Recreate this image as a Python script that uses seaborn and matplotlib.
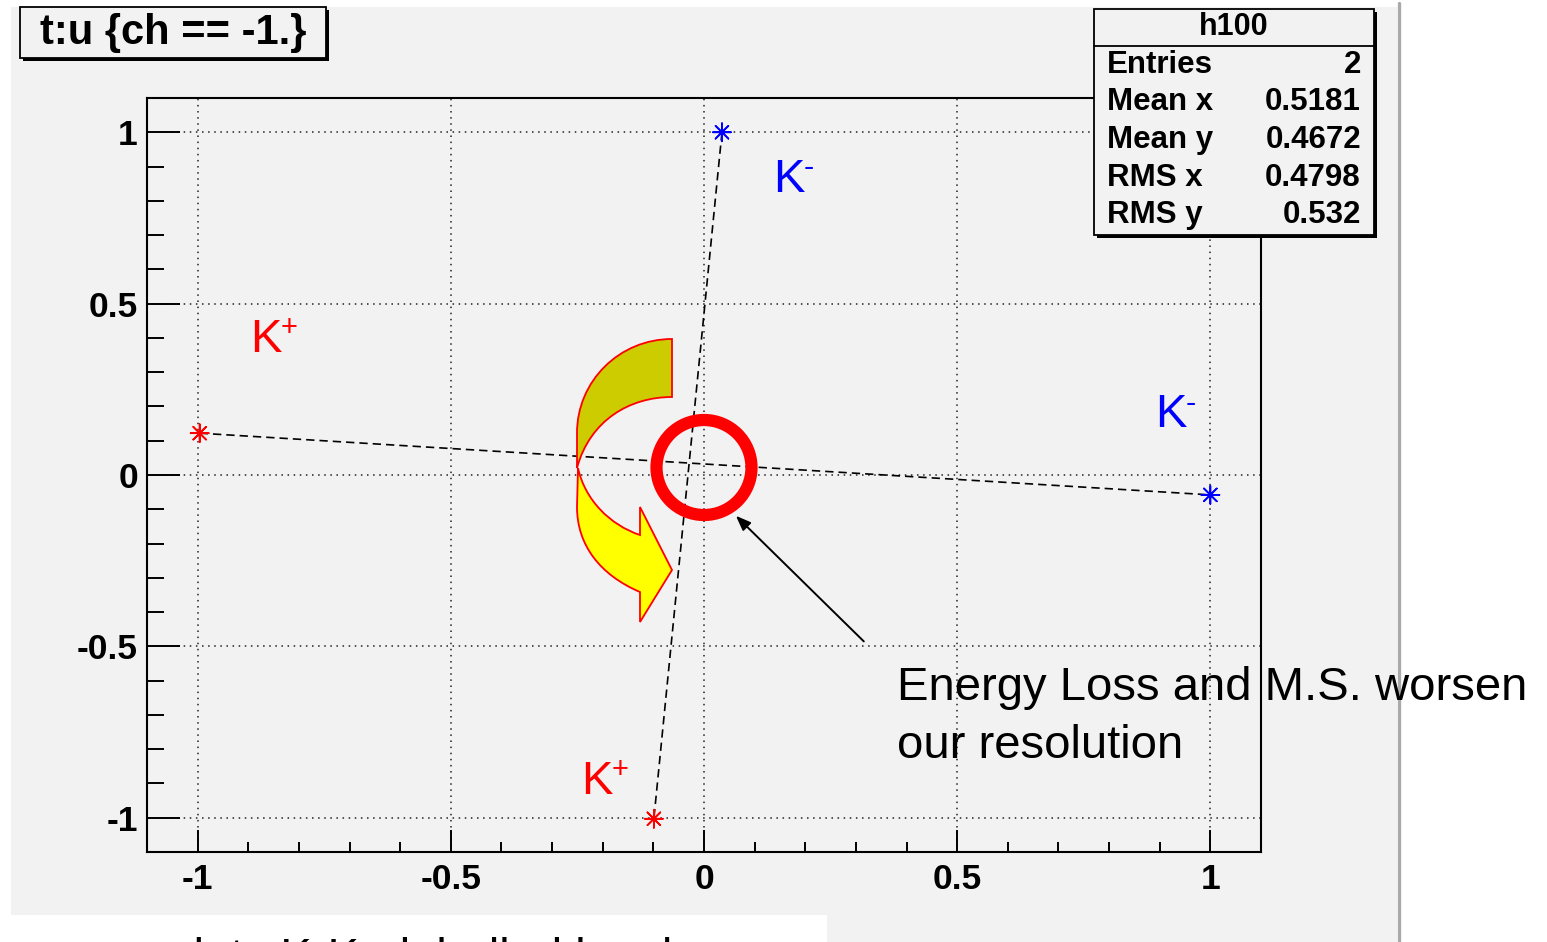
import numpy as np
import pandas as pd
import matplotlib
matplotlib.use("Agg")
import matplotlib.pyplot as plt
import matplotlib.patches as mpatches
import matplotlib.transforms as mtransforms
from matplotlib.lines import Line2D
from matplotlib.path import Path
from matplotlib.ticker import FixedLocator, MultipleLocator
import seaborn as sns

# ---------------- data ----------------
track_id = ["A", "A", "B", "B"]
charge = ["K+", "K-", "K-", "K+"]
point_u = [-0.996, 1.000, 0.0355, -0.099]
point_t = [0.122, -0.058, 1.000, -1.003]

major_ticks = [-1, -0.5, 0, 0.5, 1]
tick_labels = ["-1", "-0.5", "0", "0.5", "1"]

stats_title = "h100"
stats_names = ["Entries", "Mean x", "Mean y", "RMS x", "RMS y"]
stats_values = ["2", "0.5181", "0.4672", "0.4798", "0.532"]

hist_title = "t:u {ch == -1.}"
note_line1 = "Energy Loss and M.S. worsen"
note_line2 = "our resolution"
footer_text = "xy plots K-K+ labelled by charge"

label_u = [0.136, 0.891, -0.897, -0.243]
label_t = [0.826, 0.1395, 0.360, -0.930]
label_sign = ["-", "-", "+", "+"]
label_color = ["blue", "blue", "red", "red"]

df = pd.DataFrame({"track": track_id, "charge": charge, "u": point_u, "t": point_t})

# ---------------- style ----------------
sns.set_style("white")
plt.rcParams["font.family"] = ["Liberation Sans", "DejaVu Sans"]
plt.rcParams["axes.unicode_minus"] = False
plt.rcParams["text.color"] = "black"
plt.rcParams["xtick.color"] = "black"
plt.rcParams["ytick.color"] = "black"
plt.rcParams["xtick.labelcolor"] = "black"
plt.rcParams["ytick.labelcolor"] = "black"

W, H = 1547, 942
fig = plt.figure(figsize=(W / 100, H / 100), dpi=100, facecolor="white")
px = mtransforms.Affine2D().scale(1 / W, -1 / H).translate(0, 1) + fig.transFigure

CANVAS = "#f2f2f2"

# canvas background
fig.add_artist(mpatches.Rectangle((11, 7), 1386, 935, transform=px,
                                  facecolor=CANVAS, edgecolor="none", zorder=-10))
fig.add_artist(mpatches.Rectangle((11, 915), 816, 30, transform=px,
                                  facecolor="white", edgecolor="none", zorder=-9))
fig.add_artist(Line2D([1399, 1399], [3, 942], transform=px, color="#aaaaaa",
                      lw=2.4, zorder=-8))

# axes
ax = fig.add_axes([147 / W, 1 - 852 / H, (1261 - 147) / W, (852 - 98) / H])
ax.set_facecolor(CANVAS)

sns.lineplot(data=df, x="u", y="t", units="track", estimator=None, sort=False,
             color="black", lw=1.2, linestyle=(0, (5, 3)), ax=ax, zorder=3)
sns.scatterplot(data=df, x="u", y="t", hue="charge",
                palette={"K+": "red", "K-": "blue"}, marker=(8, 2, 0), s=170,
                linewidth=1.2, legend=False, ax=ax, zorder=4)

ax.set_xlim(-1.1, 1.1)
ax.set_ylim(-1.1, 1.1)
ax.set_xlabel("")
ax.set_ylabel("")
ax.xaxis.set_major_locator(FixedLocator(major_ticks))
ax.yaxis.set_major_locator(FixedLocator(major_ticks))
ax.set_xticklabels(tick_labels, fontsize=25.5, fontweight="bold", color="black")
ax.set_yticklabels(tick_labels, fontsize=25.5, fontweight="bold", color="black")
ax.xaxis.set_minor_locator(MultipleLocator(0.1))
ax.yaxis.set_minor_locator(MultipleLocator(0.1))
ax.tick_params(axis="both", which="both", direction="in", top=False, right=False,
               bottom=True, left=True, width=1.4, color="black")
ax.tick_params(axis="x", which="major", length=16, pad=8)
ax.tick_params(axis="x", which="minor", length=7.5)
ax.tick_params(axis="y", which="major", length=24, pad=6.5)
ax.tick_params(axis="y", which="minor", length=12)
ax.grid(True, which="major", color="#222222", linestyle=(0, (1, 3)), lw=1.1)
for sp in ax.spines.values():
    sp.set_color("black")
    sp.set_linewidth(1.5)

# K labels
for u, t, s, c in zip(label_u, label_t, label_sign, label_color):
    ax.text(u, t, "K", color=c, fontsize=34, ha="left", va="baseline", zorder=5)
    ax.annotate(s, xy=(u, t), xytext=(22, 17), textcoords="offset points",
                color=c, fontsize=21 if s == "+" else 22, ha="left", va="center",
                zorder=5)

# black arrow
ax.annotate("", xy=(0.063, -0.119), xytext=(0.3156, -0.4855),
            arrowprops=dict(arrowstyle="-|>,head_length=0.9,head_width=0.35",
                            color="black", lw=1.4, shrinkA=0, shrinkB=0),
            zorder=6)

# red circle
fig.add_artist(mpatches.Circle((704, 467.5), 47.5, transform=px, facecolor="none",
                               edgecolor="#ff0000", lw=8.8, zorder=7))

# curved arrow (olive upper part, yellow lower part)
olive_verts = [(672, 339), (619.5, 339), (577, 381), (577, 433), (577, 468),
               (590, 420), (630, 397), (672, 397), (672, 339)]
olive_codes = [Path.MOVETO, Path.CURVE4, Path.CURVE4, Path.CURVE4, Path.LINETO,
               Path.CURVE4, Path.CURVE4, Path.CURVE4, Path.CLOSEPOLY]
yellow_verts = [(578, 468), (585, 500), (610, 525), (640, 535), (640, 507),
                (672, 570), (640, 622), (640, 592), (600, 575), (577, 545),
                (577, 507), (578, 468)]
yellow_codes = [Path.MOVETO, Path.CURVE4, Path.CURVE4, Path.CURVE4, Path.LINETO,
                Path.LINETO, Path.LINETO, Path.LINETO, Path.CURVE4, Path.CURVE4,
                Path.CURVE4, Path.CLOSEPOLY]
fig.add_artist(mpatches.PathPatch(Path(olive_verts, olive_codes), transform=px,
                                  facecolor="#cccc00", edgecolor="#ff0000", lw=1.3,
                                  zorder=6))
fig.add_artist(mpatches.PathPatch(Path(yellow_verts, yellow_codes), transform=px,
                                  facecolor="#ffff00", edgecolor="#ff0000", lw=1.3,
                                  zorder=6))

# title box
fig.add_artist(mpatches.Rectangle((23, 10), 306, 51, transform=px,
                                  facecolor="black", edgecolor="none", zorder=8))
fig.add_artist(mpatches.Rectangle((20, 7), 306, 51, transform=px,
                                  facecolor=CANVAS, edgecolor="black", lw=1.3, zorder=9))
fig.text(173, 33, hist_title, transform=px, fontsize=30, fontweight="bold",
         ha="center", va="center", color="black", zorder=10)

# stats box
fig.add_artist(mpatches.Rectangle((1097, 12), 280, 226, transform=px,
                                  facecolor="black", edgecolor="none", zorder=8))
fig.add_artist(mpatches.Rectangle((1094, 9), 280, 226, transform=px,
                                  facecolor=CANVAS, edgecolor="black", lw=1.3, zorder=9))
fig.add_artist(Line2D([1094, 1374], [46, 46], transform=px, color="black",
                      lw=1.3, zorder=10))
fig.text(1234, 27, stats_title, transform=px, fontsize=22, fontweight="bold",
         ha="center", va="center", color="black", zorder=10)
row_y = [65, 102, 140, 178, 215]
for name, val, y in zip(stats_names, stats_values, row_y):
    fig.text(1107, y, name, transform=px, fontsize=22.5, fontweight="bold",
             ha="left", va="center", color="black", zorder=10)
    fig.text(1361, y, val, transform=px, fontsize=22.5, fontweight="bold",
             ha="right", va="center", color="black", zorder=10)

# note text
fig.text(897, 700, note_line1, transform=px, fontsize=34, ha="left",
         va="baseline", color="black", zorder=11)
fig.text(897, 758, note_line2, transform=px, fontsize=34, ha="left",
         va="baseline", color="black", zorder=11)

# footer text (cut by the bottom edge, as in the reference)
fig.text(107, 971, footer_text, transform=px, fontsize=34, ha="left",
         va="baseline", color="black", zorder=11)

fig.savefig("out.png", dpi=100, facecolor="white")
